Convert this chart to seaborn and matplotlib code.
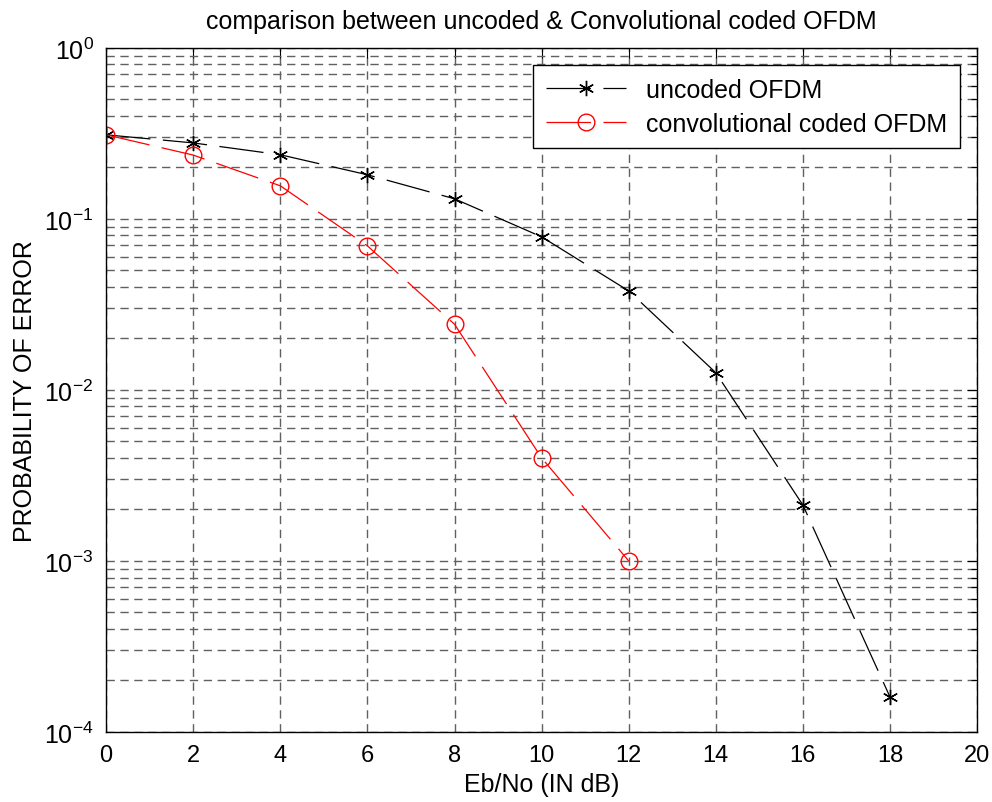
import matplotlib
matplotlib.use("Agg")
import matplotlib.pyplot as plt
from matplotlib.ticker import MultipleLocator, LogLocator, NullFormatter
import numpy as np
import pandas as pd
import seaborn as sns

snr_db = [0, 2, 4, 6, 8, 10, 12, 14, 16, 18]
ber_uncoded = [0.31, 0.278, 0.237, 0.181, 0.131, 0.0785, 0.0379, 0.0126, 0.00212, 0.00016]
snr_coded = [0, 2, 4, 6, 8, 10, 12]
ber_coded = [0.31, 0.236, 0.156, 0.0695, 0.0242, 0.0040, 0.0010]

sns.set_style("white")
plt.rcParams["font.family"] = ["Liberation Sans", "DejaVu Sans"]
plt.rcParams["mathtext.default"] = "regular"
plt.rcParams["lines.scale_dashes"] = False
plt.rcParams["text.color"] = "black"
plt.rcParams["axes.labelcolor"] = "black"
plt.rcParams["xtick.color"] = "black"
plt.rcParams["ytick.color"] = "black"

fig = plt.figure(figsize=(9.92, 8.03), dpi=100)
ax = fig.add_axes([0.107, 0.0872, 0.878, 0.852])

unc = pd.DataFrame({"snr": snr_db, "ber": ber_uncoded})
cod = pd.DataFrame({"snr": snr_coded, "ber": ber_coded})

sns.lineplot(data=unc, x="snr", y="ber", ax=ax, color="black", lw=0.9,
             marker=(6, 2, 0), markersize=11, markeredgewidth=1.0,
             markeredgecolor="black", label="uncoded OFDM")
sns.lineplot(data=cod, x="snr", y="ber", ax=ax, color="red", lw=0.9,
             marker="o", markersize=12, markerfacecolor="none",
             markeredgecolor="red", markeredgewidth=1.0,
             label="convolutional coded OFDM")
for ln in ax.lines:
    ln.set_dashes((32, 9))

ax.set_yscale("log")
ax.set_xlim(0, 20)
ax.set_ylim(1e-4, 1)
ax.xaxis.set_major_locator(MultipleLocator(2))
ax.yaxis.set_major_locator(LogLocator(base=10, numticks=10))
ax.yaxis.set_minor_locator(LogLocator(base=10, subs=np.arange(2, 10), numticks=10))
ax.yaxis.set_minor_formatter(NullFormatter())

grid_kw = dict(color="#606060", lw=1.0, dashes=(6, 4))
ax.grid(True, which="major", axis="both", **grid_kw)
ax.grid(True, which="minor", axis="y", **grid_kw)

ax.tick_params(which="both", direction="in", top=True, right=True, labelsize=17,
               color="black", labelcolor="black")
ax.tick_params(which="major", length=7, width=0.8)
ax.tick_params(which="minor", length=4, width=0.8)
ax.tick_params(axis="y", which="major", labelsize=18, pad=9)
ax.tick_params(axis="x", which="major", pad=9)
for s in ax.spines.values():
    s.set_color("black")
    s.set_linewidth(1.0)

ax.set_title("comparison between uncoded & Convolutional coded OFDM", fontsize=18,
             pad=14, color="black")
ax.set_xlabel("Eb/No (IN dB)", fontsize=18, labelpad=4, color="black")
ax.set_ylabel("PROBABILITY OF ERROR", fontsize=18, labelpad=5, color="black")

leg = ax.legend(loc="upper right", fontsize=18, frameon=True, fancybox=False,
                edgecolor="black", framealpha=1, handlelength=3.2,
                borderaxespad=0.7, labelspacing=0.4, borderpad=0.5)
leg.get_frame().set_linewidth(1.0)
for t in leg.get_texts():
    t.set_color("black")

fig.savefig("out.png", dpi=100)
